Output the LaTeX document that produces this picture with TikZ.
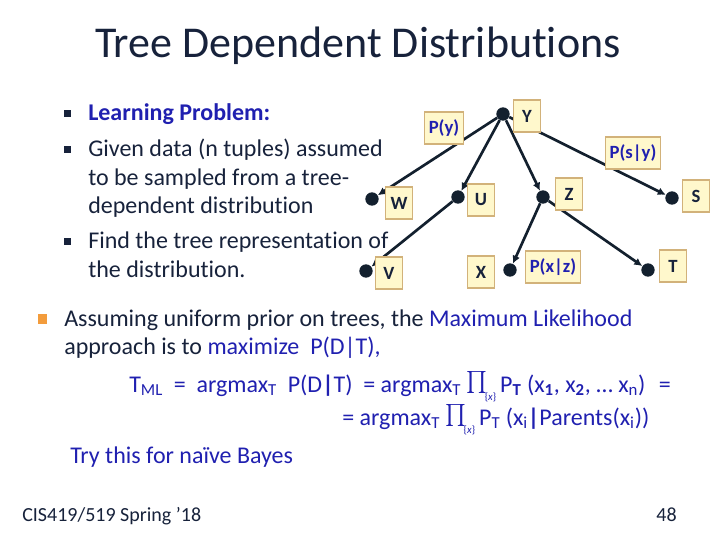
\documentclass[tikz,border=0pt]{standalone}
\usepackage{fontspec}
\usepackage{graphicx}
\setmainfont{Carlito}[Ligatures=NoCommon]
\usetikzlibrary{arrows.meta}
\definecolor{navy}{HTML}{17223B}
\definecolor{ink}{HTML}{2020B0}
\definecolor{dotc}{HTML}{13202E}
\definecolor{notefill}{HTML}{FFF8CC}
\definecolor{notedraw}{HTML}{D2B27A}
\definecolor{orng}{HTML}{F39C3C}
\newcommand{\prodx}{\scalebox{1.65}{$\prod$}\kern-2pt\raisebox{-0.7ex}{\fontsize{8}{8}\selectfont\{\textit{x}\}}\hspace{3pt}}
\tikzset{
  vtx/.style={circle, fill=dotc, inner sep=0pt, minimum size=10pt},
  lab/.style={draw=notedraw, fill=notefill, line width=0.8pt, text=navy,
    font=\fontsize{14}{16}\selectfont\bfseries, minimum width=20pt, minimum height=24pt, inner sep=3pt},
  plab/.style={lab, text=ink},
  edge/.style={->, draw=dotc, line width=2pt},
  body/.style={anchor=base west, inner sep=0pt, text=navy, font=\fontsize{18}{21}\selectfont},
  eqn/.style={body, text=ink},
}
\begin{document}
\begin{tikzpicture}[>={Latex[length=6pt,width=6pt]}, x=0.75pt, y=-0.75pt]
\useasboundingbox (0,0) rectangle (720,540);
% title
\node[anchor=base west, inner sep=0pt, text=navy, font=\fontsize{33}{36}\selectfont] (title) at (95,57) {Tree Dependent Distributions};
% left bullets
\fill[navy] (63.5,110) rectangle ++(7,7);
\fill[navy] (63.5,146) rectangle ++(7,7);
\fill[navy] (63.5,238) rectangle ++(7,7);
\node[body, text=ink, font=\fontsize{18}{21}\selectfont\bfseries] (lp) at (88,120) {Learning Problem:};
\node[body] (g1) at (88,156) {Given data (n tuples) assumed};
\node[body] (g2) at (88,185) {to be sampled from a tree-};
\node[body] (g3) at (88,213) {dependent distribution};
\node[body] (f1) at (88,248) {Find the tree representation of};
\node[body] (f2) at (88,277) {the distribution.};
% tree
\node[vtx] (Y) at (503,114) {};
\node[vtx] (W) at (372,199) {};
\node[vtx] (U) at (458,197) {};
\node[vtx] (Z) at (543,197) {};
\node[vtx] (S) at (672,198) {};
\node[vtx] (V) at (366,271) {};
\node[vtx] (X) at (510,270) {};
\node[vtx] (T) at (648,270) {};
\foreach \a/\b in {Y/W, Y/U, Y/Z, Y/S, U/V, Z/X, Z/T}
  \draw[edge] (\a) -- (\b);
\node[lab] (Yl) at (527,116) {Y};
\node[lab] (Wl) at (399,203) {W};
\node[lab] (Ul) at (481,200) {U};
\node[lab] (Zl) at (569,194) {Z};
\node[lab] (Sl) at (696,196) {S};
\node[lab] (Vl) at (389,273) {V};
\node[lab] (Xl) at (481,272) {X};
\node[lab] (Tl) at (673,266) {T};
\node[plab] (py) at (444,128) {P(y)};
\node[plab] (psy) at (633,153) {P(s|y)};
\node[plab] (pxz) at (553,267) {P(x|z)};
% lower part
\fill[orng] (38,314) rectangle ++(9,10);
\node[body] (a1) at (64,326) {Assuming uniform prior on trees, the \textcolor{ink}{Maximum Likelihood}};
\node[body] (a2) at (64,354) {approach is to \textcolor{ink}{maximize~ P(D|T),}};
\node[eqn] (e1) at (129,392) {T\textsubscript{ML}\hspace{4pt} =\hspace{4pt} argmax\textsubscript{T}\hspace{4pt} P(D\textbf{|}T)\hspace{4pt} = argmax\textsubscript{T} \prodx P\textsubscript{\textbf{T}} (x\textsubscript{\textbf{1}}, x\textsubscript{\textbf{2}}, … x\textsubscript{n})\hspace{10pt}=};
\node[eqn] (e2) at (342,425) {= argmax\textsubscript{T} \prodx P\textsubscript{T} (x\textsubscript{i}\textbf{|}Parents(x\textsubscript{i}))};
\node[eqn] (try) at (70,463) {Try this for naïve Bayes};
% footer
\node[anchor=base west, inner sep=0pt, text=navy, font=\fontsize{15}{17}\selectfont] (foot) at (22,521) {CIS419/519 Spring ’18};
\node[anchor=base east, inner sep=0pt, text=navy, font=\fontsize{15}{17}\selectfont] (page) at (677,521) {48};
\end{tikzpicture}
\end{document}
